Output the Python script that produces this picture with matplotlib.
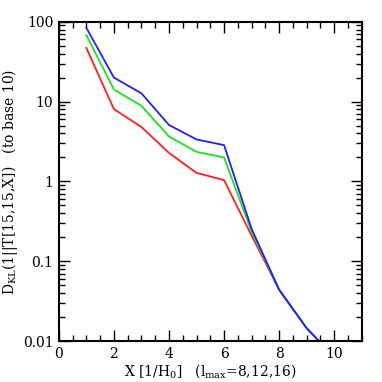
import matplotlib
matplotlib.use("Agg")
import matplotlib.pyplot as plt
from matplotlib.ticker import MultipleLocator, LogLocator, FixedFormatter, FixedLocator

# X positions (1/H0) and D_KL values for l_max = 8, 12, 16
x = [1, 2, 3, 4, 5, 6, 7, 8, 9, 10]
dkl_l8 = [47, 8.05, 4.8, 2.28, 1.28, 1.04, 0.21, 0.044, 0.0145, 0.0064]
dkl_l12 = [68, 14.2, 8.85, 3.66, 2.35, 2.0, 0.235, 0.044, 0.0145, 0.0064]
dkl_l16 = [84, 20, 12.7, 5.1, 3.36, 2.85, 0.255, 0.044, 0.0145, 0.0064]

plt.rcParams['font.family'] = ['DejaVu Serif']
plt.rcParams['mathtext.fontset'] = 'dejavuserif'

fig = plt.figure(figsize=(3.82, 3.82), dpi=100)
ax = fig.add_axes([0.154, 0.107, 0.793, 0.836])

ax.plot(x, dkl_l8, color='#ff2020', lw=1.3)
ax.plot(x, dkl_l12, color='#20e020', lw=1.3)
ax.plot(x, dkl_l16, color='#2020ff', lw=1.3)

ax.set_yscale('log')
ax.set_xlim(0, 11)
ax.set_ylim(0.01, 100)

ax.xaxis.set_major_locator(MultipleLocator(2))
ax.xaxis.set_minor_locator(MultipleLocator(0.5))
ax.yaxis.set_major_locator(FixedLocator([0.01, 0.1, 1, 10, 100]))
ax.yaxis.set_major_formatter(FixedFormatter(['0.01', '0.1', '1', '10', '100']))
ax.yaxis.set_minor_locator(LogLocator(base=10, subs=range(2, 10)))
ax.yaxis.set_minor_formatter(FixedFormatter([]))

ax.tick_params(which='both', direction='in', top=True, right=True, labelsize=10, width=1.0)
ax.tick_params(which='major', length=8, pad=4)
ax.tick_params(which='minor', length=4)
for s in ax.spines.values():
    s.set_linewidth(1.5)

ax.set_xlabel(r'X [1/H$_0$]   (l$_{\rm max}$=8,12,16)', fontsize=10, labelpad=1)
ax.set_ylabel(r'D$_{\rm KL}$(1||T[15,15,X])   (to base 10)', fontsize=10, labelpad=2)

fig.savefig('out.png', dpi=100)
